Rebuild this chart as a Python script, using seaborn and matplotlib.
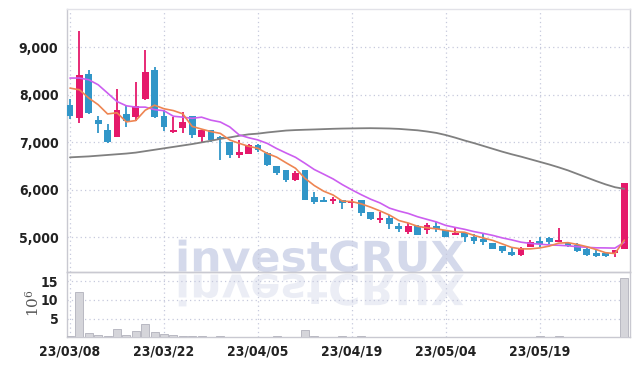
import numpy as np
import matplotlib
matplotlib.use("Agg")
import matplotlib.pyplot as plt
import seaborn as sns
from matplotlib.textpath import TextPath
from matplotlib.patches import PathPatch
from matplotlib.font_manager import FontProperties
from matplotlib.transforms import Affine2D

# daily prices (KRW), 60 trading days
opens = [7780, 7510, 8430, 7460, 7250, 7110, 7590, 7530, 7900, 8520,
         7550, 7210, 7300, 7550, 7110, 7250, 7100, 7010, 6730, 6750,
         6940, 6780, 6500, 6410, 6200, 6410, 5850, 5780, 5760, 5770,
         5710, 5770, 5520, 5360, 5410, 5240, 5110, 5230, 5150, 5230,
         5150, 5040, 5090, 4990, 4950, 4880, 4800, 4690, 4620, 4780,
         4920, 4970, 4900, 4880, 4830, 4740, 4670, 4660, 4660, 4740]
closes = [7550, 8410, 7620, 7390, 7010, 7670, 7450, 7760, 8480, 7530,
          7310, 7250, 7420, 7150, 7250, 7040, 7060, 6730, 6800, 6940,
          6830, 6520, 6340, 6200, 6360, 5780, 5740, 5740, 5800, 5710,
          5740, 5500, 5390, 5410, 5270, 5170, 5230, 5040, 5250, 5170,
          5010, 5080, 4990, 4920, 4900, 4750, 4710, 4620, 4760, 4900,
          4850, 4900, 4940, 4810, 4710, 4620, 4600, 4600, 4730, 6130]
highs = [7900, 9340, 8520, 7550, 7390, 8130, 7760, 8260, 8950, 8590,
         7670, 7530, 7640, 7550, 7260, 7250, 7130, 7010, 7040, 6960,
         6960, 6800, 6500, 6420, 6400, 6410, 5950, 5850, 5850, 5770,
         5810, 5770, 5530, 5530, 5470, 5300, 5300, 5250, 5290, 5320,
         5150, 5180, 5090, 5070, 5080, 4880, 4800, 4760, 4790, 4940,
         4990, 5010, 5200, 4900, 4870, 4760, 4740, 4660, 4730, 6130]
lows = [7490, 7410, 7590, 7200, 6980, 7100, 7330, 7450, 7880, 7520,
        7240, 7200, 7200, 7080, 7010, 7000, 6620, 6660, 6660, 6740,
        6800, 6500, 6310, 6150, 6180, 5780, 5700, 5740, 5700, 5600,
        5620, 5440, 5350, 5300, 5160, 5100, 5060, 5040, 5060, 5110,
        5000, 5040, 4900, 4850, 4830, 4750, 4660, 4600, 4600, 4780,
        4780, 4850, 4900, 4780, 4690, 4600, 4580, 4580, 4580, 4740]

# moving averages
ma5 = [8140, 8105, 7930, 7790, 7595, 7620, 7428, 7456, 7673, 7779,
       7705, 7666, 7598, 7332, 7276, 7223, 7185, 7046, 6976, 6913,
       6871, 6761, 6684, 6565, 6450, 6239, 6085, 5966, 5886, 5755,
       5748, 5699, 5629, 5550, 5463, 5348, 5295, 5225, 5194, 5173,
       5140, 5109, 5100, 5034, 4979, 4928, 4855, 4781, 4749, 4750,
       4770, 4808, 4871, 4881, 4843, 4796, 4736, 4669, 4652, 4935]
ma10 = [8352, 8352, 8316, 8210, 8035, 7857, 7767, 7739, 7739, 7687,
        7663, 7547, 7527, 7503, 7527, 7464, 7425, 7322, 7154, 7094,
        7047, 6973, 6865, 6771, 6681, 6555, 6423, 6325, 6225, 6103,
        5994, 5892, 5797, 5718, 5609, 5548, 5497, 5427, 5372, 5318,
        5244, 5202, 5162, 5114, 5076, 5034, 4982, 4940, 4891, 4865,
        4849, 4832, 4826, 4815, 4796, 4783, 4772, 4770, 4766, 4889]
ma60 = [6680, 6690, 6700, 6715, 6730, 6745, 6760, 6780, 6810, 6840,
        6870, 6900, 6930, 6960, 6995, 7030, 7070, 7100, 7135, 7165,
        7180, 7205, 7225, 7245, 7255, 7262, 7268, 7275, 7282, 7287,
        7290, 7293, 7295, 7292, 7288, 7280, 7265, 7250, 7225, 7195,
        7150, 7095, 7035, 6980, 6920, 6860, 6800, 6745, 6695, 6640,
        6585, 6530, 6470, 6405, 6330, 6255, 6180, 6110, 6050, 6015]

# volume in millions of shares
volumes = [0.3, 12.2, 1.3, 0.6, 0.4, 2.2, 0.6, 1.7, 3.6, 1.4,
           0.9, 0.6, 0.5, 0.3, 0.3, 0.2, 0.3, 0.2, 0.2, 0.2,
           0.2, 0.2, 0.3, 0.2, 0.1, 1.9, 0.4, 0.2, 0.2, 0.3,
           0.2, 0.3, 0.2, 0.2, 0.1, 0.1, 0.1, 0.1, 0.2, 0.1,
           0.1, 0.1, 0.1, 0.1, 0.1, 0.1, 0.1, 0.1, 0.1, 0.1,
           0.3, 0.1, 0.3, 0.1, 0.1, 0.1, 0.2, 0.1, 0.1, 15.8]

date_ticks = [0, 10, 20, 30, 40, 50]
date_labels = ["23/03/08", "23/03/22", "23/04/05", "23/04/19", "23/05/04", "23/05/19"]
price_ticks = [5000, 6000, 7000, 8000, 9000]
vol_ticks = [5, 10, 15]

UP = "#e5196b"
DOWN = "#3196c8"
GRID = "#c6c9dc"
FRAME = "#c9c9d1"

sns.set_theme(style="white")
plt.rcParams["font.family"] = ["DejaVu Sans"]
plt.rcParams["mathtext.fontset"] = "dejavuserif"
tick_font = FontProperties(family="DejaVu Sans", stretch="condensed", weight="bold", size=10)

idx = np.arange(len(closes))
o = np.array(opens)
c = np.array(closes)
colors = [UP if cc >= oo else DOWN for oo, cc in zip(o, c)]
body_low = np.minimum(o, c)
body_h = np.maximum(np.abs(c - o), 18)

fig = plt.figure(figsize=(6.39, 3.66), dpi=100)
ax = fig.add_axes([0.1044, 0.2568, 0.8815, 0.7186])
axv = fig.add_axes([0.1044, 0.0779, 0.8815, 0.179], sharex=ax)
for a in (ax, axv):
    a.set_facecolor("none")

# watermark with its reflection, behind everything
wm_prop = FontProperties(family="DejaVu Sans", weight="bold")
wm = TextPath((0, 0), "investCRUX", size=42, prop=wm_prop)
ext = wm.get_extents()
sx = 285 / ext.width
base_y = 366 - 271.5
fig.patches.append(PathPatch(wm, transform=Affine2D().scale(sx, 1).translate(175, base_y),
                             facecolor="#cdd3e8", edgecolor="none", alpha=0.85, zorder=-1))
fig.patches.append(PathPatch(wm, transform=Affine2D().scale(sx, -1).translate(175, base_y - 3),
                             facecolor="#e6e9f3", edgecolor="none", alpha=0.8, zorder=-1))

# candles
ax.vlines(idx, lows, highs, colors=colors, linewidth=1.3, zorder=2)
ax.bar(idx, body_h, bottom=body_low, width=0.72, color=colors, linewidth=0, zorder=3)

# moving averages
sns.lineplot(x=idx, y=ma60, ax=ax, color="#808080", linewidth=1.3, zorder=4)
sns.lineplot(x=idx, y=ma10, ax=ax, color="#cc5ef0", linewidth=1.2, zorder=5)
sns.lineplot(x=idx, y=ma5, ax=ax, color="#ee8552", linewidth=1.2, zorder=6)

ax.set_xlim(-0.35, 59.6)
ax.set_ylim(4262, 9808)
ax.set_yticks(price_ticks)
ax.set_yticklabels([f"{v:,}" for v in price_ticks], fontproperties=tick_font, color="#222222")
ax.set_xticks(date_ticks)
ax.tick_params(axis="x", labelbottom=False, length=0)
ax.tick_params(axis="y", length=0, pad=6)
ax.grid(True, linestyle=(0, (1, 2.5)), color=GRID, linewidth=0.9, zorder=0)
ax.set_xlabel("")
ax.set_ylabel("")

# volume
axv.bar(idx, volumes, width=0.85, color="#d5d5da", edgecolor="#b9b9c2", linewidth=0.7, zorder=3)
axv.set_ylim(0, 17.4)
axv.set_yticks(vol_ticks)
axv.set_yticklabels([str(v) for v in vol_ticks], fontproperties=tick_font, color="#222222")
axv.set_xticks(date_ticks)
axv.set_xticklabels(date_labels, fontproperties=tick_font, color="#222222")
axv.tick_params(axis="x", length=0, pad=5)
axv.tick_params(axis="y", length=0, pad=6)
axv.grid(True, linestyle=(0, (1, 2.5)), color=GRID, linewidth=0.9, zorder=0)
axv.set_ylabel(r"$10^6$", fontsize=11, color="#555555", rotation=90)
axv.yaxis.set_label_coords(-0.045, 0.52)

for a in (ax, axv):
    for s in a.spines.values():
        s.set_color(FRAME)
        s.set_linewidth(1.0)
ax.spines["top"].set_color("#e2e2e8")

fig.savefig("out.png", dpi=100)
